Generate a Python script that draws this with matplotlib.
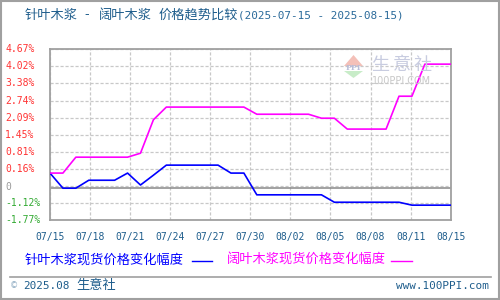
import matplotlib
matplotlib.use("Agg")
import matplotlib.pyplot as plt
from matplotlib.patches import Rectangle, Polygon

# daily values, 2025-07-15 .. 2025-08-15 (percent change vs. first day)
softwood = [0, -0.57, -0.57, -0.27, -0.27, -0.27, 0, -0.45, -0.08, 0.30,
            0.30, 0.30, 0.30, 0.30, 0, 0, -0.82, -0.82, -0.82, -0.82,
            -0.82, -0.82, -1.10, -1.10, -1.10, -1.10, -1.10, -1.10, -1.21, -1.21,
            -1.21, -1.21]
hardwood = [0, 0, 0.60, 0.60, 0.60, 0.60, 0.60, 0.75, 2.01, 2.49,
            2.49, 2.49, 2.49, 2.49, 2.49, 2.49, 2.22, 2.22, 2.22, 2.22,
            2.22, 2.07, 2.07, 1.66, 1.66, 1.66, 1.66, 2.90, 2.90, 4.11,
            4.11, 4.11]
days = list(range(len(softwood)))

x_labels = ["07/15", "07/18", "07/21", "07/24", "07/27", "07/30",
            "08/02", "08/05", "08/08", "08/11", "08/15"]
y_ticks = [4.67, 4.026, 3.382, 2.738, 2.094, 1.45, 0.806, 0.162, -0.482, -1.126, -1.77]
y_labels = ["4.67%", "4.02%", "3.38%", "2.74%", "2.09%", "1.45%", "0.81%",
            "0.16%", "", "-1.12%", "-1.77%"]
zero_line = -0.57

TEXT = "#1e5d8c"
CJK = ["Noto Sans CJK SC", "DejaVu Sans"]
MONO = ["DejaVu Sans Mono", "Noto Sans CJK SC"]


def fx(x):
    return x / 500


def fy(y):
    return 1 - y / 300


fig = plt.figure(figsize=(5, 3), dpi=100)
fig.patch.set_facecolor("white")
fig.patches.append(Rectangle((0.001, 0.002), 0.997, 0.995, transform=fig.transFigure,
                             fill=False, edgecolor="#a0a0a0", linewidth=1.5))

ax = fig.add_axes([fx(50), fy(220), fx(400.7), (220 - 49.3) / 300])
n = len(days) - 1
xticks = [n * k / 10 for k in range(11)]
ax.set_xlim(0, n)
ax.set_ylim(-1.77, 4.67)
ax.set_xticks(xticks)
ax.set_yticks(y_ticks)
ax.tick_params(length=0, labelleft=False, labelbottom=False)
ax.grid(True, color="#c8c8c8", linestyle=(0, (2.5, 1.5)), linewidth=0.9)
ax.set_axisbelow(True)
for sp in ax.spines.values():
    sp.set_color("#a0a0a0")
    sp.set_linewidth(1.3)
ax.axhline(zero_line, color="#888888", linewidth=1.1, zorder=1)

# watermark
ax.add_patch(Polygon([(fx(344), fy(66)), (fx(363), fy(66)), (fx(353.5), fy(55))],
                     closed=True, transform=fig.transFigure, facecolor="#f4c0b8",
                     edgecolor="none", zorder=0))
ax.add_patch(Polygon([(fx(344), fy(71)), (fx(363), fy(71)), (fx(353.5), fy(78))],
                     closed=True, transform=fig.transFigure, facecolor="#c8ecc8",
                     edgecolor="none", zorder=0))
fig.text(fx(353.5), fy(68.5), "PPI", ha="center", va="center", fontsize=5.5,
         color="#b8bcd8", fontweight="bold", family="DejaVu Serif")
for cx, ch in zip([380, 401.5, 423], "生意社"):
    fig.text(fx(cx), fy(65), ch, ha="center", va="center", fontsize=13,
             color="#c8cce0", family=CJK)
fig.text(fx(372), fy(81), "100PPI.COM", ha="left", va="center", fontsize=7,
         color="#c8c8c8", family="DejaVu Sans")

ax.plot(days, softwood, color="#0000ff", linewidth=1.2, zorder=3)
ax.plot(days, hardwood, color="#ff00ff", linewidth=1.2, zorder=3)

# y labels
for v, lab in zip(y_ticks, y_labels):
    if not lab:
        continue
    col = "#33aa33" if lab.startswith("-") else "#ff3333"
    ax.text(-45 / 400.7, v, lab, transform=ax.get_yaxis_transform(), ha="left",
            va="center", fontsize=7, color=col, family=MONO)
ax.text(-45 / 400.7, zero_line + 0.05, "0", transform=ax.get_yaxis_transform(),
        ha="left", va="center", fontsize=7, color="#999999", family=MONO)

# x labels
for xt, lab in zip(xticks, x_labels):
    ax.text(xt, -16.7 / 170.7, lab, transform=ax.get_xaxis_transform(), ha="center",
            va="center", fontsize=7, color=TEXT, family=MONO)

# title
for tx, part in [(25, "针叶木浆"), (84, "-"), (98.5, "阔叶木浆"), (158.3, "价格趋势比较")]:
    fig.text(fx(tx), fy(15), part, ha="left", va="center",
             fontsize=9.5, color=TEXT, family=CJK)
fig.text(fx(238), fy(15), "(2025-07-15 - 2025-08-15)", ha="left", va="center",
         fontsize=7.9, color="#2a6a9a", family=MONO)

# legend
fig.text(fx(25), fy(260), "针叶木浆现货价格变化幅度", ha="left", va="center",
         fontsize=9.5, color="#0000ff", family=CJK)
fig.lines.append(plt.Line2D([fx(192), fx(212)], [fy(260.5), fy(260.5)],
                            transform=fig.transFigure, color="#0000ff", linewidth=1))
fig.text(fx(227), fy(260), "阔叶木浆现货价格变化幅度", ha="left", va="center",
         fontsize=9.5, color="#ff00ff", family=CJK)
fig.lines.append(plt.Line2D([fx(391), fx(412)], [fy(260.5), fy(260.5)],
                            transform=fig.transFigure, color="#ff00ff", linewidth=1))

# footer
fig.lines.append(plt.Line2D([fx(10), fx(491)], [fy(276.7), fy(276.7)],
                            transform=fig.transFigure, color="#a0a0a0", linewidth=1.2))
fig.text(fx(10), fy(285.5), "©", ha="left", va="center", fontsize=6,
         color="#8aa8c0", family="DejaVu Sans")
fig.text(fx(23), fy(285.7), "2025.08", ha="left", va="center", fontsize=7.9,
         color=TEXT, family=MONO)
fig.text(fx(76), fy(285.7), "生意社", ha="left", va="center", fontsize=9.5,
         color=TEXT, family=CJK)
fig.text(fx(489), fy(285.7), "www.100PPI.com", ha="right", va="center", fontsize=7.9,
         color=TEXT, family=MONO)

fig.savefig("out.png", dpi=100)
